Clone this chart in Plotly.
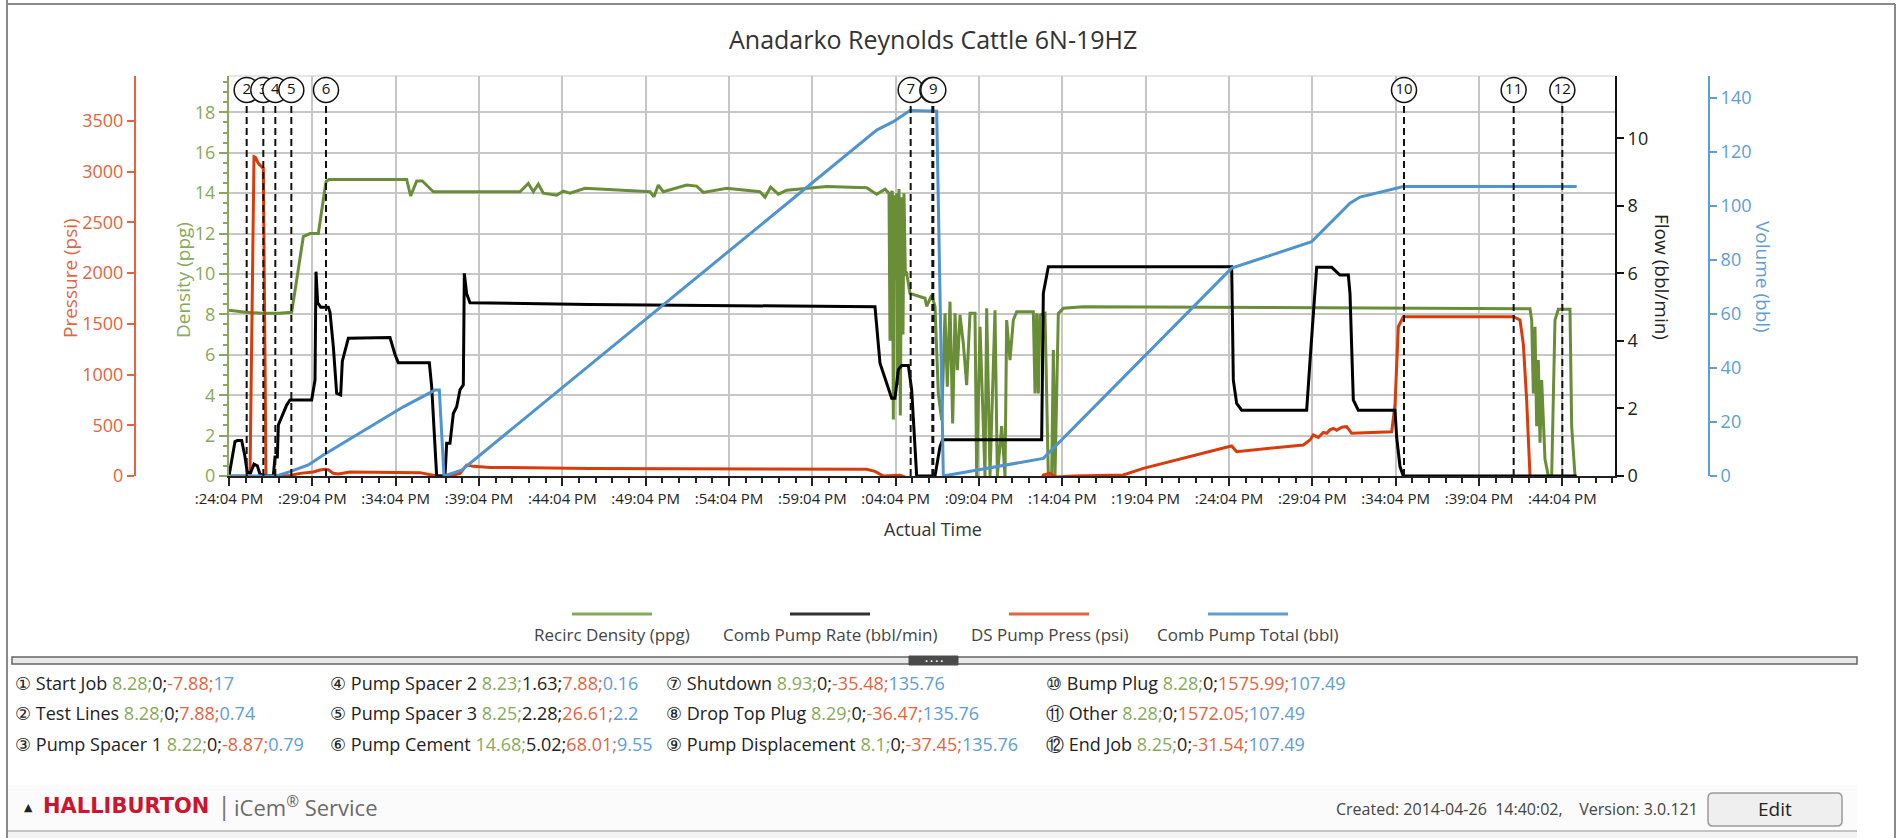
import plotly.graph_objects as go

W, H = 1898, 838

# ---------------- data ----------------
TITLE = "Anadarko Reynolds Cattle 6N-19HZ"
X_MAX = 83.16  # minutes shown after :24:04

tick_minutes = [0, 5, 10, 15, 20, 25, 30, 35, 40, 45, 50, 55, 60, 65, 70, 75, 80]
tick_labels = [":24:04 PM", ":29:04 PM", ":34:04 PM", ":39:04 PM", ":44:04 PM", ":49:04 PM",
               ":54:04 PM", ":59:04 PM", ":04:04 PM", ":09:04 PM", ":14:04 PM", ":19:04 PM",
               ":24:04 PM", ":29:04 PM", ":34:04 PM", ":39:04 PM", ":44:04 PM"]

series_names = ["Recirc Density (ppg)", "Comb Pump Rate (bbl/min)", "DS Pump Press (psi)", "Comb Pump Total (bbl)"]

dens_t = [0.0, 1.0, 2.0, 3.0, 3.76, 4.46, 4.86, 5.36, 5.82, 6.0, 10.66, 10.9, 11.26, 11.6, 12.26, 17.46, 17.96,
          18.26, 18.56, 18.86, 19.66, 20.06, 20.46, 21.36, 25.26, 25.5, 25.76, 26.06, 27.46, 28.06, 28.46, 29.86,
          31.86, 32.16, 32.5, 32.96, 33.46, 35.86, 38.26, 38.86, 39.36, 39.6,
          39.66, 39.72, 39.8, 39.86, 39.92, 40.0, 40.06, 40.12, 40.2, 40.28, 40.36, 40.44, 40.5, 40.58, 40.66,
          40.86, 41.76, 41.86, 42.16, 42.36,
          42.56, 42.76, 42.96, 43.1, 43.26, 43.42, 43.56, 43.7, 43.86, 44.06, 44.26, 44.46, 44.76, 44.86, 45.06,
          45.36, 45.46, 45.66, 45.96, 46.1, 46.36, 46.56, 46.66, 46.86, 47.06, 47.26, 48.26, 48.36, 48.46, 48.56,
          48.66, 48.96, 49.16, 49.36, 49.46, 49.56, 49.76, 50.06, 51.26, 65.0, 78.06,
          78.16, 78.26, 78.36, 78.46, 78.56, 78.66, 78.76, 78.96, 79.16, 79.36, 79.56, 79.76, 80.46, 80.56, 80.76]
dens_v = [8.2, 8.1, 8.05, 8.05, 8.1, 11.85, 12.0, 12.0, 14.57, 14.68, 14.68, 13.86, 14.6, 14.6, 14.07, 14.07, 14.48,
          14.07, 14.45, 14.0, 13.9, 14.1, 14.0, 14.24, 14.07, 13.82, 14.4, 14.07, 14.4, 14.35, 14.04, 14.24,
          14.07, 13.8, 14.3, 13.95, 14.15, 14.33, 14.27, 13.95, 14.2, 14.0,
          6.7, 14.0, 14.1, 2.8, 13.9, 9.7, 14.0, 4.5, 14.2, 3.0, 13.8, 7.0, 14.0, 10.0, 10.03,
          9.04, 8.8, 8.4, 8.95, 8.4,
          4.09, 2.77, 8.05, 4.42, 8.63, 2.6, 8.05, 5.24, 7.97, 6.56, 4.5, 8.05, 8.05, 0, 7.39,
          0, 8.3, 0, 8.2, 0, 2.47, 0, 7.72, 5.74, 7.72, 8.13, 8.13, 4.09, 8.05, 4.09,
          7.97, 8.05, 0, 0, 6.23, 0, 8.05, 8.3, 8.38, 8.33, 8.28,
          7.72, 4.09, 7.39, 2.47, 5.74, 1.65, 4.75, 0.83, 0, 0, 7.72, 8.25, 8.25, 2.47, 0]

flow_t = [0.0, 0.36, 0.5, 0.76, 0.95, 1.1, 1.3, 1.5, 1.7, 1.86, 2.26, 2.66, 2.76, 2.9, 2.96, 3.26, 3.46, 3.66,
          4.96, 5.16, 5.22, 5.32, 5.5, 5.96, 6.06, 6.26, 6.46, 6.7, 6.8, 7.16, 9.66, 9.96, 10.16, 12.02, 12.16,
          12.46, 12.96, 13.06, 13.26, 13.46, 13.66, 13.86, 14.06, 14.12, 14.26, 14.46, 21.66, 38.76, 39.06,
          39.76, 39.96, 40.16, 40.36, 40.76, 40.96, 41.26, 42.36, 42.66, 42.82, 48.76, 48.86, 49.16, 60.16,
          60.26, 60.46, 60.76, 64.66, 64.86, 65.26, 66.16, 66.46, 66.66, 67.16, 67.26, 67.46, 67.76, 69.96,
          70.06, 70.26, 70.46, 80.86]
flow_v = [0, 1.02, 1.05, 1.05, 0.6, 0.1, 0.1, 0.35, 0.3, 0.05, 0, 0, 0.56, 0.56, 1.51, 1.85, 2.1, 2.25,
          2.25, 2.84, 6.05, 5.13, 5.0, 5.0, 4.85, 3.83, 2.45, 2.4, 3.4, 4.08, 4.1, 3.6, 3.35, 3.35, 2.65,
          0, 0, 0.97, 0.97, 1.85, 2.05, 2.55, 2.7, 6.0, 5.4, 5.13, 5.08, 5.01, 3.34,
          2.3, 2.3, 3.15, 3.27, 3.27, 2.56, 0, 0, 0.87, 1.07, 1.07, 5.41, 6.2, 6.2,
          2.84, 2.15, 1.95, 1.95, 3.4, 6.18, 6.18, 6.05, 5.95, 5.95, 5.4, 2.25, 1.95, 1.95,
          1.14, 0.28, 0, 0]

press_t = [0.0, 1.26, 1.5, 1.6, 1.76, 2.06, 2.22, 2.86, 3.66, 4.26, 5.06, 5.46, 5.76, 5.96, 6.26, 6.56, 7.26,
           11.46, 12.06, 12.46, 13.26, 13.86, 14.26, 14.66, 15.66, 21.66, 38.26, 38.76, 39.26, 40.26, 40.96,
           48.76, 48.86, 49.26, 49.66, 50.66, 53.66, 54.86, 59.96, 60.16, 60.46, 64.46, 64.86, 65.06, 65.36,
           65.66, 65.86, 66.06, 66.26, 66.46, 66.76, 67.06, 67.36, 69.76, 69.96, 70.16, 70.46, 77.06, 77.46,
           77.66, 77.86, 78.06, 78.2, 80.86]
press_v = [0, 0, 3148, 3140, 3083, 3033, 0, 0, 5, 26, 39, 59, 66, 62, 26, 20, 39,
           33, 10, 0, 0, 26, 108, 95, 85, 75, 66, 46, 0, 8, -35,
           -35, 10, 25, -10, 0, 10, 75, 289, 296, 240, 306, 355, 404, 380,
           430, 421, 455, 470, 450, 480, 486, 421, 437, 700, 1472, 1571, 1571, 1538,
           1300, 749, 0, -31, -31]

vol_t = [0.0, 2.86, 3.66, 4.76, 5.66, 10.46, 12.36, 12.62, 12.9, 13.96, 38.86, 39.86, 40.86, 42.26, 42.46,
         42.86, 48.86, 60.16, 64.96, 67.26, 67.86, 70.46, 80.86]
vol_v = [0, 0, 1.6, 4.1, 7.8, 25.6, 31.8, 31.8, 0, 2.2, 128, 131.1, 135.2, 135.2, 135,
         0, 6.5, 76.9, 86.7, 100.9, 103.2, 107.1, 107.1]

marker_num = ["1", "2", "3", "4", "5", "6", "7", "8", "9", "10", "11", "12"]
marker_sym = ["\u2460", "\u2461", "\u2462", "\u2463", "\u2464", "\u2465", "\u2466", "\u2467", "\u2468",
              "\u2469", "\u246a", "\u246b"]
marker_name = ["Start Job", "Test Lines", "Pump Spacer 1", "Pump Spacer 2", "Pump Spacer 3", "Pump Cement",
               "Shutdown", "Drop Top Plug", "Pump Displacement", "Bump Plug", "Other", "End Job"]
marker_t = [0.0, 1.06, 2.06, 2.78, 3.74, 5.82, 40.9, 42.2, 42.26, 70.5, 77.08, 80.0]
marker_dens = ["8.28", "8.28", "8.22", "8.23", "8.25", "14.68", "8.93", "8.29", "8.1", "8.28", "8.28", "8.25"]
marker_flow = ["0", "0", "0", "1.63", "2.28", "5.02", "0", "0", "0", "0", "0", "0"]
marker_press = ["-7.88", "7.88", "-8.87", "7.88", "26.61", "68.01", "-35.48", "-36.47", "-37.45",
                "1575.99", "1572.05", "-31.54"]
marker_vol = ["17", "0.74", "0.79", "0.16", "2.2", "9.55", "135.76", "135.76", "135.76",
              "107.49", "107.49", "107.49"]

NB = "\u00a0"
footer_created = f"Created: 2014-04-26{NB}{NB}14:40:02,{NB}{NB}{NB}{NB}Version: 3.0.121"

# ---------------- styling ----------------
FONT = "Open Sans, Noto Sans, DejaVu Sans, sans-serif"
GREEN_LINE = "#6a8d37"
GREEN_TXT = "#88a95b"
RED_LINE = "#d93c0c"
RED_TXT = "#e3643e"
BLUE_LINE = "#4f93cf"
BLUE_TXT = "#5e9dd6"
BLACK = "#000000"
GRID = "#c6c6c6"

PL, PR, PT, PB = 229, 1615, 76, 476   # plot area in pixels


def px(X):
    return X / W


def py(Y):
    return 1 - Y / H


fig = go.Figure()

fig.add_trace(go.Scatter(x=dens_t, y=dens_v, yaxis="y", name=series_names[0], mode="lines",
                         line=dict(color=GREEN_LINE, width=3), showlegend=False))
fig.add_trace(go.Scatter(x=press_t, y=press_v, yaxis="y2", name=series_names[2], mode="lines",
                         line=dict(color=RED_LINE, width=3), showlegend=False))
fig.add_trace(go.Scatter(x=flow_t, y=flow_v, yaxis="y3", name=series_names[1], mode="lines",
                         line=dict(color=BLACK, width=3), showlegend=False))
fig.add_trace(go.Scatter(x=vol_t, y=vol_v, yaxis="y4", name=series_names[3], mode="lines",
                         line=dict(color=BLUE_LINE, width=3), showlegend=False))

VOL_MAX = 148.0
circle_y = (PB - 90) * VOL_MAX / (PB - PT)
shapes = []
for i, t in enumerate(marker_t):
    if not (0 < t <= X_MAX):
        continue
    fig.add_trace(go.Scatter(x=[t], y=[circle_y], yaxis="y4", mode="markers+text",
                             marker=dict(size=25, color="white", line=dict(color="#111", width=1.5)),
                             text=[marker_num[i]], textposition="middle center",
                             textfont=dict(size=15, color="#111", family=FONT),
                             cliponaxis=False, showlegend=False, hoverinfo="skip"))
    shapes.append(dict(type="line", xref="x", yref="paper", x0=t, x1=t, y0=py(PB), y1=py(104),
                       line=dict(color="#111", width=2, dash="7px,4px"), layer="above"))

# faint top boundary of plot
shapes.append(dict(type="line", xref="paper", yref="paper", x0=px(PL), x1=px(PR), y0=py(PT), y1=py(PT),
                   line=dict(color="#dcdcdc", width=1.5), layer="below"))

# page borders
shapes.append(dict(type="line", xref="paper", yref="paper", x0=px(7), x1=px(7), y0=0, y1=1,
                   line=dict(color="#8a8a8a", width=2)))
shapes.append(dict(type="line", xref="paper", yref="paper", x0=px(7), x1=px(1895), y0=py(4), y1=py(4),
                   line=dict(color="#8a8a8a", width=2)))
shapes.append(dict(type="line", xref="paper", yref="paper", x0=px(1895), x1=px(1895), y0=py(838), y1=py(4),
                   line=dict(color="#8a8a8a", width=2)))

annotations = []

# title
annotations.append(dict(text=TITLE, x=px(933), y=py(39), xref="paper", yref="paper", showarrow=False,
                        xanchor="center", yanchor="middle", font=dict(size=25, color="#333", family=FONT)))

# axis titles
annotations += [
    dict(text="Pressure (psi)", x=px(70), y=py(278), textangle=-90, font=dict(size=19, color=RED_TXT, family=FONT)),
    dict(text="Density (ppg)", x=px(183), y=py(280), textangle=-90, font=dict(size=19, color=GREEN_TXT, family=FONT)),
    dict(text="Flow (bbl/min)", x=px(1662), y=py(277), textangle=90, font=dict(size=19, color="#222", family=FONT)),
    dict(text="Volume (bbl)", x=px(1763), y=py(277), textangle=90, font=dict(size=19, color=BLUE_TXT, family=FONT)),
    dict(text="Actual Time", x=px(933), y=py(529), font=dict(size=18, color="#333", family=FONT)),
]
for a in annotations[1:]:
    a.update(xref="paper", yref="paper", showarrow=False, xanchor="center", yanchor="middle")

# manual legend
leg_cx = [612, 830, 1049, 1248]
leg_col = [GREEN_TXT, "#333333", RED_TXT, BLUE_TXT]
for cx, name, col in zip(leg_cx, series_names, leg_col):
    shapes.append(dict(type="line", xref="paper", yref="paper", x0=px(cx - 40), x1=px(cx + 40),
                       y0=py(614), y1=py(614), line=dict(color=col, width=3)))
    annotations.append(dict(text=name, x=px(cx), y=py(634), xref="paper", yref="paper", showarrow=False,
                            xanchor="center", yanchor="middle", font=dict(size=17, color="#444", family=FONT)))

# separator bar with handle
shapes.append(dict(type="rect", xref="paper", yref="paper", x0=px(12), x1=px(1857), y0=py(664), y1=py(657),
                   fillcolor="#e8e8e8", line=dict(color="#666", width=1.5)))
shapes.append(dict(type="rect", xref="paper", yref="paper", x0=px(909), x1=px(958), y0=py(665), y1=py(656),
                   fillcolor="#4a4a4a", line=dict(color="#4a4a4a", width=1)))
annotations.append(dict(text="\u2022 \u2022 \u2022 \u2022", x=px(933.5), y=py(660.5), xref="paper", yref="paper",
                        showarrow=False, xanchor="center", yanchor="middle",
                        font=dict(size=8, color="white", family=FONT)))

# marker value rows
col_x = [13, 328, 664, 1044]
row_y = [683, 713, 744]
for i in range(len(marker_name)):
    X = col_x[i // 3]
    Y = row_y[i % 3]
    txt = (f"{marker_sym[i]} {marker_name[i]} "
           f"<span style='color:{GREEN_TXT}'>{marker_dens[i]};</span>{marker_flow[i]};"
           f"<span style='color:{RED_TXT}'>{marker_press[i]};</span>"
           f"<span style='color:{BLUE_TXT}'>{marker_vol[i]}</span>")
    annotations.append(dict(text=txt, x=px(X), y=py(Y), xref="paper", yref="paper", showarrow=False,
                            xanchor="left", yanchor="middle", font=dict(size=18, color="#222", family=FONT)))

# footer
shapes.append(dict(type="rect", xref="paper", yref="paper", x0=px(8), x1=px(1857), y0=py(830), y1=py(785),
                   fillcolor="#fbfbfb", line=dict(width=0), layer="below"))
shapes.append(dict(type="line", xref="paper", yref="paper", x0=px(8), x1=px(1857), y0=py(831), y1=py(831),
                   line=dict(color="#c4c4c4", width=2)))
shapes.append(dict(type="rect", xref="paper", yref="paper", x0=px(8), x1=px(1857), y0=0, y1=py(832),
                   fillcolor="#f3f3f3", line=dict(width=0), layer="below"))
annotations += [
    dict(text="\u25b2", x=px(22), y=py(806), xanchor="left", font=dict(size=11, color="#222", family=FONT)),
    dict(text="<b>HALLIBURTON</b>", x=px(41), y=py(806), xanchor="left",
         font=dict(size=21, color="#cc1530", family="DejaVu Sans, sans-serif")),
    dict(text="|", x=px(224), y=py(805), xanchor="center", font=dict(size=26, color="#777", family=FONT)),
    dict(text="iCem<sup>\u00ae</sup> Service", x=px(232), y=py(806), xanchor="left",
         font=dict(size=22, color="#6a6a6a", family=FONT)),
    dict(text=footer_created, x=px(1700), y=py(809), xanchor="right", font=dict(size=16, color="#444", family=FONT)),
    dict(text="Edit", x=px(1775), y=py(809), xanchor="center", font=dict(size=19, color="#222", family=FONT)),
]
for a in annotations[-6:]:
    a.update(xref="paper", yref="paper", showarrow=False, yanchor="middle")


def rounded_rect(x0, y0, x1, y1, r):
    X0, X1 = px(x0), px(x1)
    Y0, Y1 = py(y0), py(y1)
    rx, ry = r / W, r / H
    return (f"M {X0 + rx},{Y0} L {X1 - rx},{Y0} Q {X1},{Y0} {X1},{Y0 - ry} "
            f"L {X1},{Y1 + ry} Q {X1},{Y1} {X1 - rx},{Y1} L {X0 + rx},{Y1} "
            f"Q {X0},{Y1} {X0},{Y1 + ry} L {X0},{Y0 - ry} Q {X0},{Y0} {X0 + rx},{Y0} Z")


shapes.append(dict(type="path", xref="paper", yref="paper", path=rounded_rect(1708, 793, 1842, 826, 5),
                   fillcolor="#efefef", line=dict(color="#9a9a9a", width=1.5)))

axis_common = dict(ticks="outside", tickwidth=1.5, zeroline=False, fixedrange=True, showline=True,
                   linewidth=2, automargin=False)

fig.update_layout(
    width=W, height=H,
    margin=dict(l=0, r=0, t=0, b=0, pad=0, autoexpand=False),
    paper_bgcolor="white", plot_bgcolor="white",
    font=dict(family=FONT),
    showlegend=False,
    xaxis=dict(domain=[px(PL), px(PR)], range=[0, X_MAX], tickmode="array", tickvals=tick_minutes,
               ticktext=tick_labels, ticklen=8, tickcolor="#222", linecolor="#222",
               showgrid=True, gridcolor=GRID, gridwidth=1.5,
               minor=dict(tickmode="linear", tick0=0, dtick=1, ticks="outside", ticklen=5,
                          tickcolor="#222", showgrid=False),
               tickfont=dict(size=15, color="#222", family=FONT), anchor="y", **axis_common),
    yaxis=dict(domain=[py(PB), py(PT)], range=[0, 19.8], tick0=0, dtick=2, ticklen=8,
               tickcolor=GREEN_TXT, linecolor=GREEN_TXT, showgrid=True, gridcolor=GRID, gridwidth=1.5,
               minor=dict(tick0=0, dtick=0.5, ticks="outside", ticklen=4, tickcolor=GREEN_TXT, showgrid=False),
               tickfont=dict(size=18, color=GREEN_TXT, family=FONT), anchor="x", side="left", **axis_common),
    yaxis2=dict(overlaying="y", anchor="free", position=px(135), side="left", range=[0, 3944],
                tick0=0, dtick=500, ticklen=7, tickcolor=RED_TXT, linecolor=RED_TXT, showgrid=False,
                tickfont=dict(size=18, color=RED_TXT, family=FONT), **axis_common),
    yaxis3=dict(overlaying="y", anchor="x", side="right", range=[0, 11.845], tick0=0, dtick=2, ticklen=7,
                tickcolor="#111", linecolor="#111", showgrid=False,
                tickfont=dict(size=18, color="#222", family=FONT), **axis_common),
    yaxis4=dict(overlaying="y", anchor="free", position=px(1709), side="right", range=[0, VOL_MAX],
                tick0=0, dtick=20, ticklen=7, tickcolor=BLUE_TXT, linecolor=BLUE_TXT, showgrid=False,
                tickfont=dict(size=18, color=BLUE_TXT, family=FONT), **axis_common),
    shapes=shapes,
    annotations=annotations,
)

fig.write_html("out.html", config={"displayModeBar": False},
               post_script="document.body.style.margin='0';document.body.style.overflow='hidden';")
